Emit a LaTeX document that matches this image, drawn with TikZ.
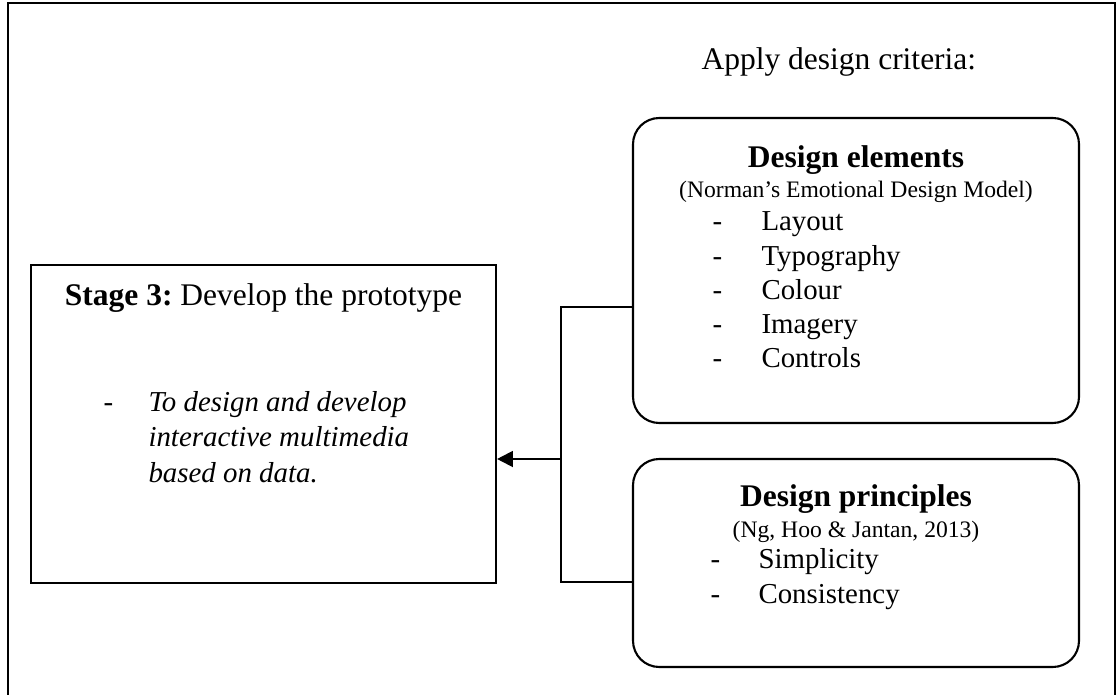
\documentclass[tikz,border=0pt]{standalone}
\usepackage{fontspec}
\setmainfont{Liberation Serif}
\usetikzlibrary{arrows.meta,fit,positioning}
\frenchspacing

\tikzset{
  box/.style={draw, line width=0.8pt, inner sep=0pt},
  roundbox/.style={box, rounded corners=10pt},
  link/.style={line width=0.8pt},
  head/.style={font=\fontsize{12}{14}\selectfont\bfseries, anchor=base, inner sep=0pt},
  cite/.style={font=\fontsize{9}{11}\selectfont, anchor=base, inner sep=0pt},
  item/.style={font=\fontsize{11}{13}\selectfont, anchor=base west, inner sep=0pt},
}

\begin{document}
\begin{tikzpicture}[x=0.381pt, y=-0.381pt]
    \useasboundingbox (0,0) rectangle (1118,695);
    % outer frame, open at the bottom
    \draw[link] (8,695) -- (8,3) -- (1115,3) -- (1115,695);

    \node[font=\fontsize{12}{14}\selectfont, anchor=base west, inner sep=0pt] (apply) at (701,70) {Apply design criteria:};

    % stage box
    \node[box, fit={(31,265) (496,583)}] (stage) {};
    \node[anchor=base, inner sep=0pt, font=\fontsize{12}{14}\selectfont] (title) at (263.5,306)
        {\textbf{Stage 3:} Develop the prototype};
    \node[item] (aim-dash) at (103,412) {-};
    \foreach \t [count=\i] in {To design and develop, interactive multimedia, based on data.}
        \node[item, font=\fontsize{11}{13}\selectfont\itshape] (aim-\i) at (148,{412+35*(\i-1)}) {\t};

    % design elements
    \node[roundbox, fit={(633,118) (1079,423)}] (elements) {};
    \node[head] (elements-head) at (856,168) {Design elements};
    \node[cite] (elements-cite) at (856,198) {(Norman’s Emotional Design Model)};
    \foreach \t [count=\i] in {Layout, Typography, Colour, Imagery, Controls} {
        \node[item] (el-dash-\i) at (712,{231+34.2*(\i-1)}) {-};
        \node[item] (el-\i) at (761,{231+34.2*(\i-1)}) {\t};
    }

    % design principles
    \node[roundbox, fit={(633,459) (1079,667)}] (principles) {};
    \node[head] (principles-head) at (856,506) {Design principles};
    \node[cite] (principles-cite) at (856,537) {(Ng, Hoo \& Jantan, 2013)};
    \foreach \t [count=\i] in {Simplicity, Consistency} {
        \node[item] (pr-dash-\i) at (710,{568+35*(\i-1)}) {-};
        \node[item] (pr-\i) at (758,{568+35*(\i-1)}) {\t};
    }

    % connectors
    \coordinate (jtop) at (561,307);
    \coordinate (jmid) at (561,459);
    \coordinate (jbot) at (561,582);
    \draw[link] (elements.west |- jtop) -- (jtop) -- (jbot) -- (principles.west |- jbot);
    \draw[link, -{Triangle[length=6pt, width=6pt]}] (jmid) -- (stage.east |- jmid);
\end{tikzpicture}
\end{document}
